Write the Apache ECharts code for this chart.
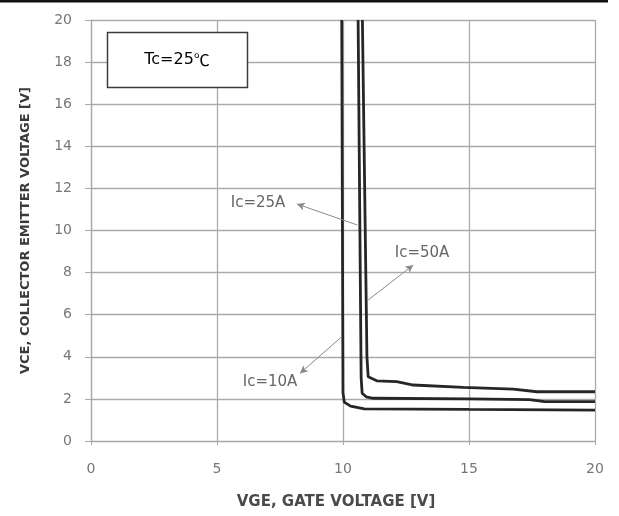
<!DOCTYPE html>
<html>
<head>
<meta charset="utf-8">
<script src="https://cdn.jsdelivr.net/npm/echarts@6/dist/echarts.min.js"></script>
<style>html,body{margin:0;padding:0;background:#fff;}#c{width:619px;height:516px;}</style>
</head>
<body>
<div id="c"></div>
<script>
// VGE [V], VCE [V] pairs for each collector current
const ic10A = [[9.95,20],[10.0,2.3],[10.05,1.85],[10.3,1.66],[10.85,1.53],[15,1.5],[20,1.47]];
const ic25A = [[10.6,20],[10.72,3.0],[10.76,2.27],[10.92,2.1],[11.2,2.03],[15,2.0],[17.4,1.97],[18.0,1.87],[20,1.87]];
const ic50A = [[10.77,20],[10.95,4.0],[11.0,3.05],[11.34,2.86],[12.13,2.82],[12.79,2.66],[14.77,2.55],[16.76,2.46],[17.69,2.34],[20,2.34]];
const xTicks = [0,5,10,15,20];
const yTicks = [0,2,4,6,8,10,12,14,16,18,20];
// annotation arrows in data coordinates: [from, to]
const arrow25A = [[10.57,10.26],[8.17,11.26]];
const arrow50A = [[11.0,6.7],[12.79,8.36]];
const arrow10A = [[9.95,4.95],[8.29,3.21]];

const chart = echarts.init(document.getElementById('c'), null, {renderer:'canvas'});
const font = 'DejaVu Sans';
function arrowLine(a){
  return {
    silent:true, animation:false,
    symbol:['none','arrow'], symbolSize:[6,8],
    lineStyle:{color:'#8a8a8a', width:1, type:'solid'},
    label:{show:false},
    data:[[{coord:a[0]},{coord:a[1]}]]
  };
}
function lineSeries(name, data, arrow){
  return {
    name:name, type:'line', data:data, showSymbol:false, symbol:'none',
    lineStyle:{color:'#262626', width:2.8}, animation:false, clip:true,
    markLine: arrowLine(arrow)
  };
}
const annStyle = {font:'15px "DejaVu Sans"', fill:'#666', align:'center', verticalAlign:'middle'};
chart.setOption({
  animation:false,
  grid:{left:91, right:24, top:20, bottom:75, containLabel:false},
  xAxis:{
    type:'value', min:0, max:20, interval:5,
    axisLine:{show:true, lineStyle:{color:'#a8a8a8', width:1.2}},
    axisTick:{show:true, length:4, lineStyle:{color:'#a8a8a8'}},
    axisLabel:{color:'#777', fontSize:14, fontFamily:font, margin:21,
      formatter:v=>xTicks.includes(v)?String(v):''},
    splitLine:{show:true, lineStyle:{color:'#ababab', width:1.3}},
    name:'VGE, GATE VOLTAGE [V]', nameLocation:'middle', nameGap:54,
    nameTextStyle:{color:'#4a4a4a', fontSize:15, fontWeight:'bold', fontFamily:font, padding:[0,14,0,0]}
  },
  yAxis:{
    type:'value', min:0, max:20, interval:2,
    axisLine:{show:true, lineStyle:{color:'#a8a8a8', width:1.2}},
    axisTick:{show:true, length:6, lineStyle:{color:'#a8a8a8'}},
    axisLabel:{color:'#777', fontSize:14, fontFamily:font, margin:19,
      formatter:v=>yTicks.includes(v)?String(v):''},
    splitLine:{show:true, lineStyle:{color:'#ababab', width:1.3}},
    name:'VCE, COLLECTOR EMITTER VOLTAGE [V]', nameLocation:'middle', nameGap:59, nameRotate:90,
    nameTextStyle:{color:'#3a3a3a', fontSize:13, fontWeight:'bold', fontFamily:font}
  },
  series:[
    lineSeries('Ic=10A', ic10A, arrow10A),
    lineSeries('Ic=25A', ic25A, arrow25A),
    lineSeries('Ic=50A', ic50A, arrow50A)
  ],
  graphic:[
    {type:'rect', shape:{x:0, y:0, width:608, height:2.5}, style:{fill:'#111'}},
    {type:'rect', shape:{x:107.5, y:32.5, width:140, height:55}, style:{fill:'#fff', stroke:'#3c3c3c', lineWidth:1.5}, z:10},
    {type:'text', x:177, y:60, z:11, style:{
      text:'{a|Tc=25}{b|℃}', align:'center', verticalAlign:'middle',
      rich:{a:{fontFamily:font, fontSize:16, color:'#3a3a3a'}, b:{fontFamily:'Noto Sans CJK SC', fontSize:16, color:'#3a3a3a'}}}},
    {type:'text', x:258, y:203, z:11, style:Object.assign({text:'Ic=25A'}, annStyle)},
    {type:'text', x:422, y:253, z:11, style:Object.assign({text:'Ic=50A'}, annStyle)},
    {type:'text', x:270, y:382, z:11, style:Object.assign({text:'Ic=10A'}, annStyle)}
  ]
});
</script>
</body>
</html>
